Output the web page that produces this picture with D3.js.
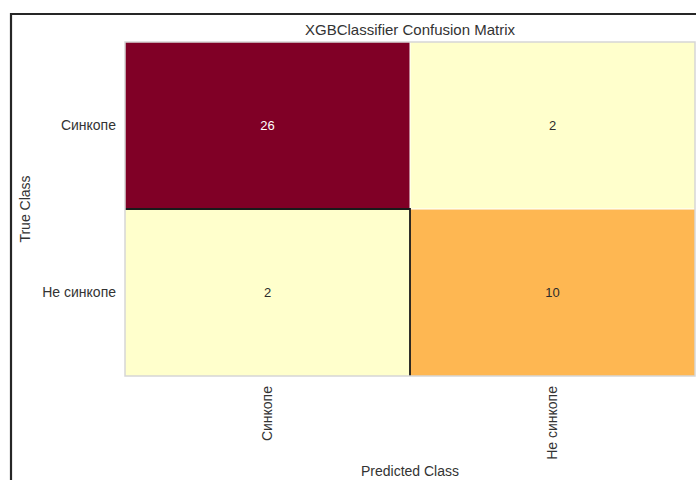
<!DOCTYPE html>
<html>
<head>
<meta charset="utf-8">
<script src="https://cdn.jsdelivr.net/npm/d3@7"></script>
<style>
  html, body { margin: 0; padding: 0; background: #fff; }
  svg { display: block; font-family: "Liberation Sans", Arial, sans-serif; }
</style>
</head>
<body>
<svg id="chart" width="696" height="480"></svg>
<script>
// Class labels (rows = true class, columns = predicted class)
const classes = ["Синкопе", "Не синкопе"];
// Confusion matrix counts, row by row
const row0 = [26, 2];
const row1 = [2, 10];
const matrix = [row0, row1];
const titleText = "XGBClassifier Confusion Matrix";
const xLabel = "Predicted Class";
const yLabel = "True Class";

// YlOrRd colour stops
const ylOrRd = ["#ffffcc", "#ffeda0", "#fed976", "#feb24c", "#fd8d3c", "#fc4e2a", "#e31a1c", "#bd0026", "#800026"];

const svg = d3.select("#chart");
const W = 696, H = 480;

// outer frame
svg.append("path")
  .attr("d", `M11,${H} L11,14 L${W},14`)
  .attr("fill", "none")
  .attr("stroke", "#262626")
  .attr("stroke-width", 2.2);

const plot = { left: 125, top: 42, right: 695, bottom: 376 };

const x = d3.scaleBand().domain(classes).range([plot.left, plot.right]);
const y = d3.scaleBand().domain(classes).range([plot.top, plot.bottom]);

const allVals = matrix.flat();
const vMin = d3.min(allVals), vMax = d3.max(allVals);
const color = d3.scaleLinear()
  .domain(ylOrRd.map((_, i) => vMin + (vMax - vMin) * i / (ylOrRd.length - 1) * 0.93))
  .range(ylOrRd)
  .clamp(true);

const cells = [];
matrix.forEach((row, i) => row.forEach((v, j) => cells.push({ t: classes[i], p: classes[j], v })));

const g = svg.append("g");
g.selectAll("rect.cell").data(cells).enter().append("rect")
  .attr("class", "cell")
  .attr("x", d => x(d.p))
  .attr("y", d => y(d.t))
  .attr("width", x.bandwidth())
  .attr("height", y.bandwidth())
  .attr("fill", d => color(d.v));

// thin white separators between cells
g.append("line")
  .attr("x1", x(classes[1])).attr("x2", x(classes[1]))
  .attr("y1", plot.top).attr("y2", y(classes[1]))
  .attr("stroke", "#fff").attr("stroke-width", 1);
g.append("line")
  .attr("x1", x(classes[1])).attr("x2", plot.right)
  .attr("y1", y(classes[1])).attr("y2", y(classes[1]))
  .attr("stroke", "#fff").attr("stroke-opacity", 0.7).attr("stroke-width", 1.5);

// dark outline around the lower-left cell
g.append("path")
  .attr("d", `M${plot.left},${y(classes[1])} L${x(classes[1])},${y(classes[1])} L${x(classes[1])},${plot.bottom}`)
  .attr("fill", "none")
  .attr("stroke", "#1a1a1a")
  .attr("stroke-width", 1.8);

// axes spines
g.append("rect")
  .attr("x", plot.left).attr("y", plot.top)
  .attr("width", plot.right - plot.left).attr("height", plot.bottom - plot.top)
  .attr("fill", "none")
  .attr("stroke", "#d6d6d6")
  .attr("stroke-width", 1.5);

// cell values
g.selectAll("text.val").data(cells).enter().append("text")
  .attr("class", "val")
  .attr("x", d => x(d.p) + x.bandwidth() / 2)
  .attr("y", d => y(d.t) + y.bandwidth() / 2)
  .attr("dy", "0.35em")
  .attr("text-anchor", "middle")
  .attr("font-size", 13)
  .attr("fill", d => d.v === vMax ? "#fff" : "#2b2b2b")
  .text(d => d.v);

// y tick labels
svg.selectAll("text.ylab").data(classes).enter().append("text")
  .attr("class", "ylab")
  .attr("x", plot.left - 9)
  .attr("y", d => y(d) + y.bandwidth() / 2)
  .attr("dy", "0.35em")
  .attr("text-anchor", "end")
  .attr("font-size", 14)
  .attr("fill", "#333")
  .text(d => d);

// x tick labels, rotated
svg.selectAll("text.xlab").data(classes).enter().append("text")
  .attr("class", "xlab")
  .attr("transform", d => `translate(${x(d) + x.bandwidth() / 2},${plot.bottom + 10}) rotate(-90)`)
  .attr("dy", "0.35em")
  .attr("text-anchor", "end")
  .attr("font-size", 14)
  .attr("fill", "#333")
  .text(d => d);

// title and axis titles
svg.append("text")
  .attr("x", (plot.left + plot.right) / 2)
  .attr("y", 30)
  .attr("dy", "0.35em")
  .attr("text-anchor", "middle")
  .attr("font-size", 15)
  .attr("fill", "#333")
  .text(titleText);

svg.append("text")
  .attr("x", (plot.left + plot.right) / 2)
  .attr("y", 471)
  .attr("dy", "0.35em")
  .attr("text-anchor", "middle")
  .attr("font-size", 14)
  .attr("fill", "#333")
  .text(xLabel);

svg.append("text")
  .attr("transform", `translate(25,${(plot.top + plot.bottom) / 2}) rotate(-90)`)
  .attr("dy", "0.35em")
  .attr("text-anchor", "middle")
  .attr("font-size", 14)
  .attr("fill", "#333")
  .text(yLabel);
</script>
</body>
</html>
